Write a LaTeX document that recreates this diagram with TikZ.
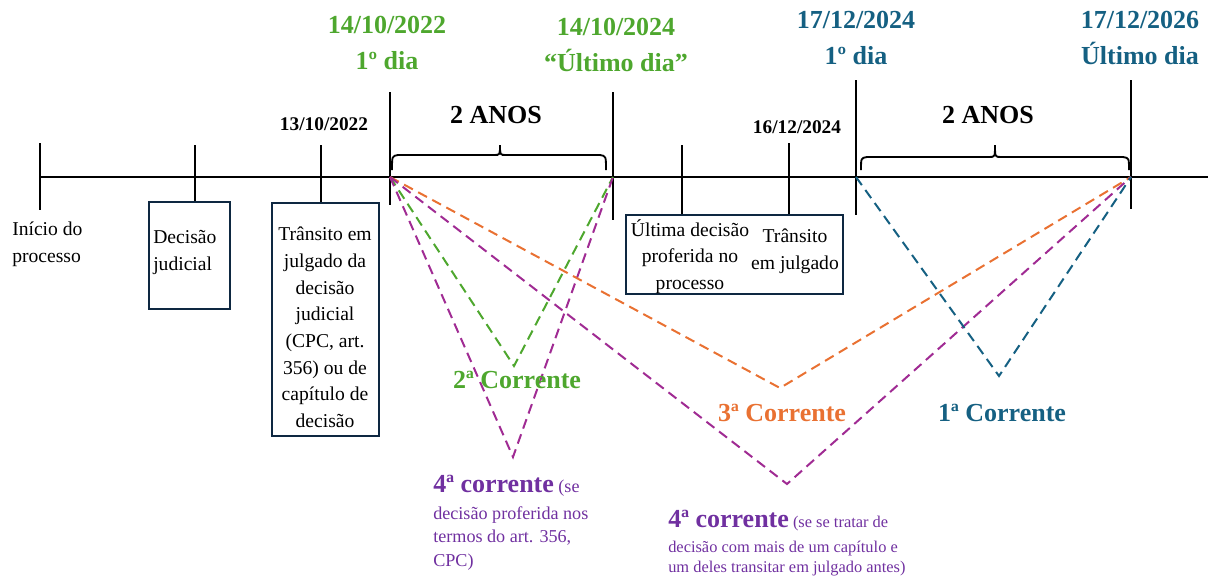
\documentclass[tikz,border=0pt]{standalone}
\usepackage{fontspec}
\setmainfont{Liberation Serif}
\usetikzlibrary{fit}
\definecolor{cgreen}{HTML}{4EA72E}
\definecolor{cblue}{HTML}{156082}
\definecolor{corange}{HTML}{E97132}
\definecolor{cpline}{HTML}{A02B93}
\definecolor{cptext}{HTML}{7030A0}
\definecolor{cbox}{HTML}{0E2841}
\begin{document}
\begin{tikzpicture}[x=0.75pt,y=-0.75pt,
  axis/.style={line width=1.6pt},
  brc/.style={line width=1.4pt},
  dl/.style={line width=1.5pt, dash pattern=on 7.5pt off 4.5pt},
  boxframe/.style={draw=cbox, line width=1.5pt, inner sep=0pt},
  hdr/.style={font=\fontsize{19.5}{27}\selectfont\bfseries, align=center, inner sep=0pt, anchor=south},
  anos/.style={font=\fontsize{19.5}{24}\selectfont\bfseries, inner sep=0pt, anchor=base},
  dt/.style={font=\fontsize{14.5}{18}\selectfont\bfseries, inner sep=0pt, anchor=base},
  lbl/.style={font=\fontsize{14.7}{20}\selectfont, inner sep=0pt},
  cor/.style={font=\fontsize{19.5}{24}\selectfont\bfseries, inner sep=0pt},
]
\useasboundingbox (0,0) rectangle (1208,579);

% timeline
\coordinate (t0) at (40,177);
\coordinate (tend) at (1208,177);
\draw[axis] (t0) -- (tend);
\coordinate (pA) at (390,177);
\coordinate (pB) at (613,177);
\coordinate (pC) at (856,177);
\coordinate (pD) at (1131,177);

% ticks
\draw[axis] (40,143) -- (40,210);
\draw[axis] (195,145) -- (195,202);
\draw[axis] (321,145) -- (321,203);
\draw[axis] (390,92) -- (390,205);
\draw[axis] (613,92) -- (613,220);
\draw[axis] (682,145) -- (682,215);
\draw[axis] (789,143) -- (789,215);
\draw[axis] (856,80) -- (856,215);
\draw[axis] (1131,80) -- (1131,209);

% braces
\draw[brc] (392,170) .. controls (392,156) .. (398,155) -- (494,155) .. controls (500,155) .. (500,145) .. controls (500,155) .. (506,155) -- (600,155) .. controls (606,156) .. (606,170);
\draw[brc] (861,170) .. controls (861,158) .. (867,157) -- (989,157) .. controls (995,157) .. (995,145) .. controls (995,157) .. (1001,157) -- (1123,157) .. controls (1129,158) .. (1129,170);

% headers
\node[hdr, text=cgreen] (h1) at (387,70) {14/10/2022\\1º dia};
\node[hdr, text=cgreen] (h2) at (616,72) {14/10/2024\\“Último dia”};
\node[hdr, text=cblue] (h3) at (856,65) {17/12/2024\\1º dia};
\node[hdr, text=cblue] (h4) at (1140,65) {17/12/2026\\Último dia};

\node[anos] (a1) at (496,123) {2 ANOS};
\node[anos] (a2) at (988,123) {2 ANOS};
\node[dt] (d1) at (324,130) {13/10/2022};
\node[dt] (d2) at (797,133) {16/12/2024};

% labels and boxes
\node[lbl, anchor=north west, align=left] (l0) at (12,222) {Início do\\processo};

\node[boxframe, fit={(149,202) (230,309)}] (b1) {};
\node[lbl, anchor=north west, align=left] (b1t) at (153,230) {Decisão\\judicial};

\node[boxframe, fit={(272,203) (379,436)}] (b2) {};
\node[lbl, anchor=north, align=center] (b2t) at (325,227) {Trânsito em\\julgado da\\decisão\\judicial\\(CPC, art.\\356) ou de\\capítulo de\\decisão};

\node[boxframe, fit={(626,215) (843,294)}] (b3) {};
\node[lbl, anchor=north, align=center] (b3t) at (690,219) {Última decisão\\proferida no\\processo};
\node[lbl, anchor=north, align=center] (b3u) at (795,229) {Trânsito\\em julgado};

% dashed lines
\coordinate (vG) at (514,366);
\coordinate (vP1) at (513,457);
\coordinate (vO) at (780,388);
\coordinate (vP2) at (787,484);
\coordinate (vB) at (999,376);
\draw[dl, cgreen] (pA) -- (vG) -- (pB);
\draw[dl, cpline] (pA) -- (vP1) -- (pB);
\draw[dl, corange] (pA) -- (vO) -- (pD);
\draw[dl, cpline] (pA) -- (vP2) -- (pD);
\draw[dl, cblue] (pC) -- (vB) -- (pD);

% corrente labels
\node[cor, text=cgreen] (c2) at (517,380) {2ª Corrente};
\node[cor, text=corange] (c3) at (782,413) {3ª Corrente};
\node[cor, text=cblue] (c1) at (1002,413) {1ª Corrente};

\node[font=\fontsize{13.6}{17.6}\selectfont, text=cptext, inner sep=0pt, anchor=north west, align=left] (c4a) at (433,475)
  {{\fontsize{19.5}{20}\selectfont\bfseries 4ª corrente} (se\\[2.6pt]decisão proferida nos\\termos do art. 356,\\CPC)};
\node[font=\fontsize{12.3}{15}\selectfont, text=cptext, inner sep=0pt, anchor=north west, align=left] (c4b) at (668,510)
  {{\fontsize{19.5}{20}\selectfont\bfseries 4ª corrente} (se se tratar de\\[3.8pt]decisão com mais de um capítulo e\\um deles transitar em julgado antes)};
\end{tikzpicture}
\end{document}
